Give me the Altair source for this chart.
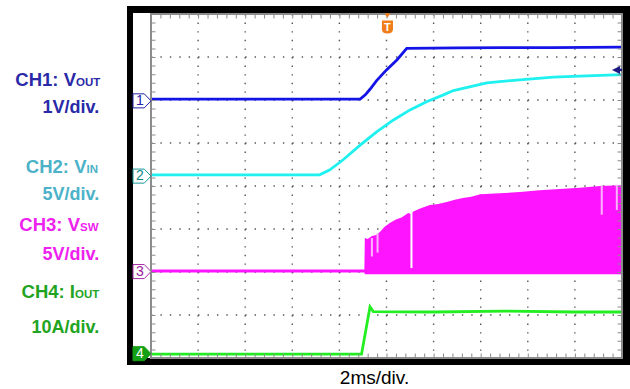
import altair as alt
import pandas as pd

# ---------------- data (in divisions) ----------------
# horizontal: 10 divisions (2 ms/div), vertical: 8 divisions
ch1_t = [0, 4.44, 4.55, 4.65, 4.79, 5.00, 5.22, 5.43, 6.5, 7.5, 8.5, 10]
ch1_v = [6.02, 6.02, 6.12, 6.25, 6.45, 6.70, 6.93, 7.20, 7.21, 7.22, 7.22, 7.23]

ch2_t = [0, 3.58, 3.79, 4.08, 4.44, 4.79, 5.14, 5.50, 5.85, 6.21, 6.42, 7.13, 7.83, 8.54, 9.25, 10]
ch2_v = [4.26, 4.26, 4.37, 4.61, 4.95, 5.26, 5.53, 5.77, 5.96, 6.12, 6.22, 6.40, 6.47, 6.53, 6.56, 6.59]

ch3_t = [0, 4.53, 4.54, 4.60, 4.69, 4.78, 4.86, 4.96, 5.07, 5.20, 5.32, 5.46, 5.52, 5.56, 5.70,
         5.92, 6.10, 6.28, 6.45, 6.62, 6.80, 6.99, 7.40, 7.83, 8.25, 8.68, 9.10, 9.53, 10]
ch3_top = [2.06, 2.06, 2.79, 2.77, 2.84, 2.86, 2.93, 3.05, 3.14, 3.22, 3.27, 3.37, 3.35, 3.40, 3.47,
           3.56, 3.58, 3.63, 3.68, 3.72, 3.75, 3.81, 3.83, 3.86, 3.90, 3.93, 3.96, 4.00, 4.02]
ch3_bot = [1.99, 1.99] + [1.95] * 27

# gaps / lighter streaks inside the switching band
gap_t = [4.69, 4.81, 5.53, 9.57, 9.89]
gap_top = [2.79, 2.90, 3.45, 4.02, 4.03]
gap_bot = [2.36, 2.45, 2.09, 3.33, 3.44]
gap_col = ["#ffb3ff", "#ffb3ff", "#ffffff", "#ffb3ff", "#ffb3ff"]

ch4_t = [0, 4.47, 4.65, 4.72, 6.0, 7.5, 9.0, 10]
ch4_v = [0.09, 0.09, 1.19, 1.08, 1.07, 1.09, 1.07, 1.07]

# channel ground markers
mk_label = ["1", "2", "3", "4"]
mk_level = [5.98, 4.23, 2.01, 0.10]
mk_stroke = ["#2323a8", "#1a9a9a", "#a52ba5", "#14a014"]
mk_fill = ["#ffffff", "#ffffff", "#ffffff", "#14a014"]
mk_text = ["#2323a8", "#118888", "#9a1a9a", "#ffffff"]

trig_pos = 5.02
trig_level = 6.70

# left-hand labels
lab_main = ["CH1: V", "CH2: V", "CH3: V", "CH4: I"]
lab_sub = ["OUT", "IN", "SW", "OUT"]
lab_scale = ["1V/div.", "5V/div.", "5V/div.", "10A/div."]
lab_color = ["#2a2aa8", "#4cb2c8", "#ee22ee", "#22a422"]
x_label = "2ms/div."

# ---------------- layout (pixels, relative to the graticule) ----------------
W, H = 471, 344
LAB_MAIN_X = [-75, -64.5, -71, -76]
LAB_RIGHT = -51.7
LAB_MAIN_Y = [72, 159, 216.7, 284]
LAB_SCALE_Y = [99, 185.5, 246, 319]

xs = alt.Scale(domain=[0, 10], nice=False, zero=False)
ys = alt.Scale(domain=[0, 8], nice=False, zero=False)
one = pd.DataFrame({"k": [0]})


def X(f):
    return alt.X(f, type="quantitative", scale=xs, axis=None)


def Y(f):
    return alt.Y(f, type="quantitative", scale=ys, axis=None)


frame_black = alt.Chart(one).mark_rect(color="black").encode(
    x=alt.value(-24), x2=alt.value(479), y=alt.value(-8), y2=alt.value(351))
frame_white = alt.Chart(one).mark_rect(color="white").encode(
    x=alt.value(-18), x2=alt.value(471), y=alt.value(-1), y2=alt.value(344))

grid_v = alt.Chart(pd.DataFrame({"g": list(range(1, 10))})).mark_rule(
    color="#555555", strokeWidth=1.4, strokeDash=[1.4, 7.2]).encode(
    x=X("g"), y=alt.value(0), y2=alt.value(H))
grid_h = alt.Chart(pd.DataFrame({"g": list(range(1, 8))})).mark_rule(
    color="#555555", strokeWidth=1.4, strokeDash=[1.4, 8.02]).encode(
    y=Y("g"), x=alt.value(0), x2=alt.value(W))

border = alt.Chart(one).mark_rect(fill=None, stroke="#8c8c8c", strokeWidth=2).encode(
    x=alt.value(0), x2=alt.value(W), y=alt.value(0), y2=alt.value(H))
tick_l = alt.Chart(one).mark_rule(color="#8c8c8c", strokeWidth=4, strokeDash=[1, 7.6]).encode(
    x=alt.value(2.5), y=alt.value(0), y2=alt.value(H))
tick_r = alt.Chart(one).mark_rule(color="#8c8c8c", strokeWidth=4, strokeDash=[1, 7.6]).encode(
    x=alt.value(W - 2.5), y=alt.value(0), y2=alt.value(H))
tick_t = alt.Chart(one).mark_rule(color="#8c8c8c", strokeWidth=4, strokeDash=[1, 8.42]).encode(
    y=alt.value(2.5), x=alt.value(0), x2=alt.value(W))
tick_b = alt.Chart(one).mark_rule(color="#8c8c8c", strokeWidth=4, strokeDash=[1, 8.42]).encode(
    y=alt.value(H - 2.5), x=alt.value(0), x2=alt.value(W))

ch1 = alt.Chart(pd.DataFrame({"t": ch1_t, "v": ch1_v})).mark_line(
    color="#1414e6", strokeWidth=2.8).encode(x=X("t"), y=Y("v"))
ch2 = alt.Chart(pd.DataFrame({"t": ch2_t, "v": ch2_v})).mark_line(
    color="#1ff0f0", strokeWidth=2.8).encode(x=X("t"), y=Y("v"))
ch3 = alt.Chart(pd.DataFrame({"t": ch3_t, "a": ch3_top, "b": ch3_bot})).mark_area(
    color="#ff14ff", opacity=1).encode(x=X("t"), y=Y("a"), y2="b")
gaps = alt.Chart(pd.DataFrame({"t": gap_t, "a": gap_top, "b": gap_bot, "c": gap_col})).mark_rule(
    strokeWidth=2).encode(x=X("t"), y=Y("a"), y2="b", color=alt.Color("c:N", scale=None))
ch4 = alt.Chart(pd.DataFrame({"t": ch4_t, "v": ch4_v})).mark_line(
    color="#22ee22", strokeWidth=2.8).encode(x=X("t"), y=Y("v"))

mk_df = pd.DataFrame({"lab": mk_label, "lev": mk_level, "s": mk_stroke, "f": mk_fill, "tc": mk_text})
marker_path = "M-1,-0.78L0.25,-0.78L1,0L0.25,0.78L-1,0.78Z"
mk_shape = alt.Chart(mk_df).mark_point(shape=marker_path, size=324, filled=True, strokeWidth=1, opacity=1).encode(
    x=alt.value(-9), y=Y("lev"),
    fill=alt.Color("f:N", scale=None), stroke=alt.Color("s:N", scale=None))
mk_txt = alt.Chart(mk_df).mark_text(font="Liberation Sans", fontSize=14, align="center", baseline="middle").encode(
    x=alt.value(-11), y=Y("lev"), text="lab:N", color=alt.Color("tc:N", scale=None))

trig_df = pd.DataFrame({"t": [trig_pos], "lab": ["T"]})
trig_body = alt.Chart(trig_df).mark_point(
    shape="M-0.85,-1L0.85,-1L0.85,0.35Q0.85,1 0,1Q-0.85,1 -0.85,0.35Z",
    size=169, filled=True, color="#f07d1a", opacity=1).encode(x=X("t"), y=alt.value(13))
trig_tip = alt.Chart(trig_df).mark_point(shape="triangle-down", size=30, filled=True,
                                         color="#f07d1a", opacity=1).encode(x=X("t"), y=alt.value(1.5))
trig_txt = alt.Chart(trig_df).mark_text(font="Liberation Sans", fontWeight="bold", fontSize=11,
                                        color="white", baseline="middle").encode(
    x=X("t"), y=alt.value(13.5), text="lab:N")

lvl_df = pd.DataFrame({"v": [trig_level]})
lvl_head = alt.Chart(lvl_df).mark_point(shape="M1,-1L-1,0L1,1Z", size=64, filled=True,
                                        color="#1a1a80", opacity=1).encode(x=alt.value(465), y=Y("v"))
lvl_line = alt.Chart(lvl_df).mark_rule(color="#1a1a80", strokeWidth=2.5).encode(
    x=alt.value(466), x2=alt.value(W), y=Y("v"))

lab_df = pd.DataFrame({
    "main": lab_main, "sub": lab_sub, "scale": lab_scale, "c": lab_color,
    "mx": LAB_MAIN_X, "my": LAB_MAIN_Y, "sy": LAB_SCALE_Y, "rx": [LAB_RIGHT] * 4,
})
lab1 = alt.Chart(lab_df).mark_text(font="Liberation Sans", fontWeight="bold", fontSize=18.5,
                                   align="right", baseline="alphabetic").encode(
    x=alt.X("mx:Q", scale=None), y=alt.Y("my:Q", scale=None), text="main:N",
    color=alt.Color("c:N", scale=None))
lab2 = alt.Chart(lab_df).mark_text(font="Liberation Sans", fontWeight="bold", fontSize=11.5,
                                   align="left", baseline="alphabetic").encode(
    x=alt.X("mx:Q", scale=None), y=alt.Y("my:Q", scale=None), text="sub:N",
    color=alt.Color("c:N", scale=None))
lab3 = alt.Chart(lab_df).mark_text(font="Liberation Sans", fontWeight="bold", fontSize=18,
                                   align="right", baseline="alphabetic").encode(
    x=alt.X("rx:Q", scale=None), y=alt.Y("sy:Q", scale=None), text="scale:N",
    color=alt.Color("c:N", scale=None))

xlab = alt.Chart(pd.DataFrame({"s": [x_label]})).mark_text(
    font="Liberation Sans", fontSize=19, color="black", align="center", baseline="alphabetic").encode(
    x=alt.value(223.5), y=alt.value(369.5), text="s:N")

chart = alt.layer(
    frame_black, frame_white, grid_v, grid_h,
    ch2, ch1, ch3, gaps, ch4,
    border, tick_l, tick_r, tick_t, tick_b,
    mk_shape, mk_txt, trig_body, trig_tip, trig_txt, lvl_line, lvl_head,
    lab1, lab2, lab3, xlab,
).properties(
    width=W, height=H,
    padding={"left": 151, "top": 14, "right": 8, "bottom": 31},
    autosize=alt.AutoSizeParams(type="none"),
    background="white",
).configure_view(stroke=None)

chart.save("out.html", embed_options={"renderer": "svg", "actions": False})
